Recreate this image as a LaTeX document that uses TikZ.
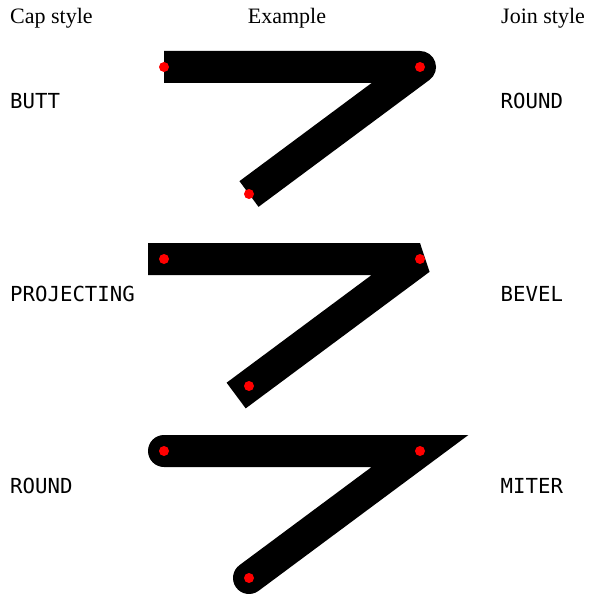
\documentclass[tikz,border=0pt]{standalone}
\usepackage{fontspec}
\setmainfont{Liberation Serif}
\newfontfamily\monofont{DejaVu Sans Mono}
\usetikzlibrary{positioning}
\tikzset{
  stroke/.style={draw=black, line width=32pt},
  dot/.style={fill=red},
  hd/.style={font=\fontsize{22pt}{26pt}\selectfont, inner sep=0pt},
  lab/.style={font=\monofont\fontsize{20.7pt}{24pt}\selectfont, inner sep=0pt},
}
\begin{document}
\begin{tikzpicture}[x=1pt, y=-1pt]
    \useasboundingbox[fill=white] (0,0) rectangle (589,596);
    % headers
    \node[hd, anchor=base west] (hcap) at (10,24) {Cap style};
    \node[hd, anchor=base] (hex) at (287,24) {Example};
    \node[hd, anchor=base west] (hjoin) at (501,24) {Join style};
    % butt / round
    \coordinate (a1) at (164,67);
    \coordinate (a2) at (420,67);
    \coordinate (a3) at (249,194);
    \draw[stroke, line cap=butt, line join=round] (a1) -- (a2) -- (a3);
    \node[lab, anchor=base west] (c1) at (10,109) {BUTT};
    \node[lab, anchor=base west] (j1) at (500.5,109) {ROUND};
    % projecting / bevel
    \coordinate (b1) at (164,259);
    \coordinate (b2) at (420,259);
    \coordinate (b3) at (249,386);
    \draw[stroke, line cap=rect, line join=bevel] (b1) -- (b2) -- (b3);
    \node[lab, anchor=base west] (c2) at (10,301) {PROJECTING};
    \node[lab, anchor=base west] (j2) at (500.5,301) {BEVEL};
    % round / miter
    \coordinate (d1) at (164,451);
    \coordinate (d2) at (420,451);
    \coordinate (d3) at (249,578);
    \draw[stroke, line cap=round, line join=miter] (d1) -- (d2) -- (d3);
    \node[lab, anchor=base west] (c3) at (10,493) {ROUND};
    \node[lab, anchor=base west] (j3) at (500.5,493) {MITER};
    % points
    \foreach \p in {a1,a2,a3,b1,b2,b3,d1,d2,d3}
      \fill[dot] (\p) circle[radius=5pt];
\end{tikzpicture}
\end{document}
